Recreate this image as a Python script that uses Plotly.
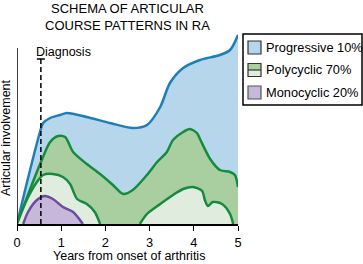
import plotly.graph_objects as go

# Data (x = years from onset, y = articular involvement, arbitrary units)
prog_x = [0, 0.25, 0.52, 0.59, 0.75, 0.97, 1.13, 1.58, 2.1, 2.62, 2.94, 3.24, 3.46, 3.76, 4.14, 4.59, 4.82, 5.0]
prog_y = [0, 46, 92, 101, 106, 109, 111, 107, 101, 96, 99, 117, 141, 156, 164, 169, 174, 189]

poly_outer_x = [0, 0.36, 0.57, 0.75, 0.93, 1.09, 1.27, 1.58, 1.88, 2.17, 2.4, 2.62, 2.94, 3.17, 3.39, 3.53, 3.76, 3.91, 4.07, 4.14, 4.37, 4.59, 4.82, 4.93, 5.0]
poly_outer_y = [0, 42, 65, 82, 88, 87, 72, 60, 50, 39, 30, 34, 49, 62, 72, 84, 92, 95, 91, 85, 65, 54, 52, 49, 37]

poly_in1_x = [0, 0.23, 0.45, 0.59, 0.81, 1.04, 1.2, 1.36, 1.58, 1.76, 1.88]
poly_in1_y = [0, 25, 42, 49, 50, 47, 40, 25, 20, 12, 0]

poly_in2_x = [2.78, 2.94, 3.24, 3.53, 3.76, 3.98, 4.19, 4.25, 4.32, 4.43, 4.64, 4.82, 4.89]
poly_in2_y = [0, 10, 20, 29, 35, 37, 33, 24, 18, 22, 20, 10, 0]

mono_x = [0.14, 0.25, 0.45, 0.63, 0.81, 1.04, 1.27, 1.49]
mono_y = [0, 12, 24, 28, 25, 17, 12, 0]

diag_x = 0.54
diag_top = 165

x_ticks = [0, 1, 2, 3, 4, 5]
legend_labels = ["Progressive 10%", "Polycyclic 70%", "Monocyclic 20%"]

BLUE_L, BLUE_F = "#1f7db8", "#b5d6eb"
GREEN_L, GREEN_F, GREEN_LF = "#168a3e", "#a9cfa1", "#e0ecdd"
PURP_L, PURP_F = "#6c4c9c", "#c7b8db"
FONT = "Liberation Sans, Arial, sans-serif"

# plot-area pixel geometry helpers (for annotation placement only)
L, T, W, H = 17, 30, 221, 194
def px(xp):
    return (xp - L) / W
def py(yp):
    return 1 - (yp - T) / H

fig = go.Figure()

def area(x, y, line, fill):
    fig.add_trace(go.Scatter(x=x, y=y, mode="lines", fill="tozeroy", fillcolor=fill,
                             line=dict(color=line, width=2.5, shape="spline", smoothing=0.8),
                             hoverinfo="skip", showlegend=False))

area(prog_x, prog_y, BLUE_L, BLUE_F)
area(poly_outer_x, poly_outer_y, GREEN_L, GREEN_F)
area(poly_in1_x, poly_in1_y, GREEN_L, GREEN_LF)
area(poly_in2_x, poly_in2_y, GREEN_L, GREEN_LF)
area(mono_x, mono_y, PURP_L, PURP_F)

# Diagnosis marker
fig.add_trace(go.Scatter(x=[diag_x, diag_x], y=[0, diag_top], mode="lines",
                         line=dict(color="black", width=1.5, dash="5px,3px"),
                         hoverinfo="skip", showlegend=False))
fig.add_shape(type="line", x0=diag_x - 0.09, x1=diag_x + 0.09, y0=diag_top, y1=diag_top,
              line=dict(color="black", width=1.5))
fig.add_annotation(xref="paper", yref="paper", x=px(34), y=py(52), text="Diagnosis", showarrow=False,
                   xanchor="left", yanchor="middle", font=dict(size=12.5, color="black", family=FONT))

# y axis line (shorter than plot)
fig.add_shape(type="line", x0=0, x1=0, y0=0, y1=176, line=dict(color="black", width=1.5))

# Legend (manual)
fig.add_shape(type="rect", xref="paper", yref="paper", x0=px(243), x1=px(362), y0=py(105), y1=py(34),
              line=dict(color="black", width=1.5), fillcolor="white", layer="above")
rows = [47.5, 70, 92.5]
for i, lab in enumerate(legend_labels):
    yc = rows[i]
    if i == 0:
        fig.add_shape(type="rect", xref="paper", yref="paper", x0=px(248), x1=px(261),
                      y0=py(yc + 6.5), y1=py(yc - 6.5), line=dict(color="#333", width=1.2), fillcolor=BLUE_F)
    elif i == 1:
        fig.add_shape(type="rect", xref="paper", yref="paper", x0=px(248), x1=px(261),
                      y0=py(yc), y1=py(yc - 6.5), line=dict(width=0), fillcolor=GREEN_F)
        fig.add_shape(type="rect", xref="paper", yref="paper", x0=px(248), x1=px(261),
                      y0=py(yc + 6.5), y1=py(yc), line=dict(width=0), fillcolor=GREEN_LF)
        fig.add_shape(type="rect", xref="paper", yref="paper", x0=px(248), x1=px(261),
                      y0=py(yc + 6.5), y1=py(yc - 6.5), line=dict(color="#333", width=1.2))
        fig.add_shape(type="line", xref="paper", yref="paper", x0=px(248), x1=px(261),
                      y0=py(yc), y1=py(yc), line=dict(color="#333", width=1.2))
    else:
        fig.add_shape(type="rect", xref="paper", yref="paper", x0=px(248), x1=px(261),
                      y0=py(yc + 6.5), y1=py(yc - 6.5), line=dict(color="#555", width=1.2), fillcolor=PURP_F)
    fig.add_annotation(xref="paper", yref="paper", x=px(264), y=py(yc), text=lab, showarrow=False,
                       xanchor="left", yanchor="middle", font=dict(size=12.8, color="black", family=FONT))

# Titles
fig.add_annotation(xref="paper", yref="paper", x=px(127), y=py(0), text="SCHEMA OF ARTICULAR<br>COURSE PATTERNS IN RA",
                   showarrow=False, xanchor="center", yanchor="top", borderpad=0,
                   font=dict(size=13, color="black", family=FONT))
fig.add_annotation(xref="paper", yref="paper", x=px(6), y=py(138), text="Articular involvement",
                   textangle=-90, showarrow=False, xanchor="center", yanchor="middle",
                   font=dict(size=12.5, color="black", family=FONT))
fig.add_annotation(xref="paper", yref="paper", x=px(129), y=py(256), text="Years from onset of arthritis",
                   showarrow=False, xanchor="center", yanchor="middle",
                   font=dict(size=12.5, color="black", family=FONT))

fig.update_layout(
    width=363, height=264, margin=dict(l=L, r=363 - L - W, t=T, b=264 - T - H),
    paper_bgcolor="white", plot_bgcolor="white",
    font=dict(family=FONT, size=12.5, color="black"),
    xaxis=dict(range=[0, 5], tickvals=x_ticks, showline=True, linecolor="black", linewidth=1.5,
               ticks="outside", ticklen=5, tickcolor="black", showgrid=False, zeroline=False,
               ticklabelstandoff=1, tickfont=dict(size=12.8)),
    yaxis=dict(range=[0, 194], showticklabels=False, showgrid=False, zeroline=False, showline=False),
)

fig.write_html("out.html")
